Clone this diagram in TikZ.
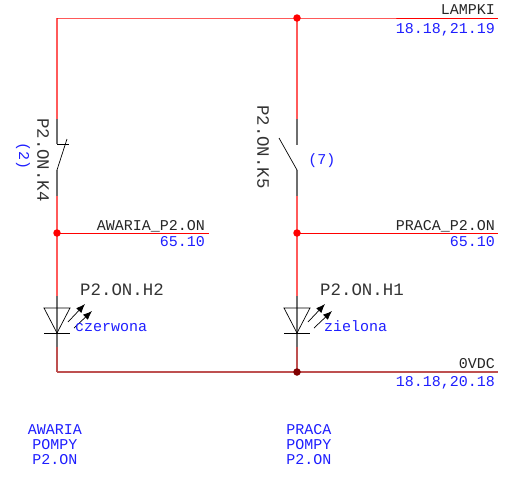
\documentclass[tikz,border=0pt]{standalone}
\usepackage{fontspec}
\setmainfont{Liberation Mono}
\usepackage{tikz}
\usetikzlibrary{calc,positioning,arrows.meta}
\definecolor{wire}{RGB}{255,90,90}
\definecolor{wireOV}{RGB}{190,80,80}
\definecolor{leadgray}{RGB}{110,110,110}
\definecolor{cadblue}{RGB}{30,30,255}

\begin{document}
\begin{tikzpicture}[
  x=1pt, y=-1pt,
  dot/.style={circle, fill=red, inner sep=0pt, minimum size=7.5pt},
  net/.style={draw=red, line width=1pt},
  rung/.style={draw=wire, line width=1.2pt},
  rungOV/.style={draw=wireOV, line width=1.2pt},
  leadline/.style={draw=leadgray, line width=1.2pt},
  sym/.style={draw=black, line width=0.7pt},
  ray/.style={-{Latex[length=9pt,width=7pt]}, black, line width=0.7pt},
  tag/.style={inner sep=0pt, font=\fontsize{17.4}{17.4}\selectfont, text=black!80},
  wirename/.style={inner sep=0pt, font=\fontsize{15}{15}\selectfont, text=black!85},
  xref/.style={inner sep=0pt, font=\fontsize{15}{15}\selectfont, text=cadblue}
]
\useasboundingbox (0,0) rectangle (512,477);

% junctions
\coordinate (topL) at (57,18);
\coordinate (botL) at (57,372);
\coordinate (lampki) at (498,18);
\coordinate (ovdc) at (498,372);
\coordinate (awaria) at (209,233);
\coordinate (praca) at (498,233);
\coordinate (topR) at (297,18);
\coordinate (midL) at (57,233);
\coordinate (midR) at (297,233);
\coordinate (botR) at (297,372);

% left rung
\coordinate (k4a) at (57,119);
\coordinate (k4b) at (57,144);
\coordinate (k4c) at (57,170);
\coordinate (k4d) at (57,196);
\coordinate (h2a) at (57,296);
\coordinate (h2b) at (57,347);
% right rung
\coordinate (k5a) at (297,119);
\coordinate (k5b) at (297,145);
\coordinate (k5c) at (297,170);
\coordinate (k5d) at (297,196);
\coordinate (h1a) at (297,296);
\coordinate (h1b) at (297,347);

\draw[rung] (topL) -- (k4a);
\draw[leadline] (k4a) -- (k4b);
\draw[leadline] (k4c) -- (k4d);
\draw[rung] (k4d) -- (midL);
\draw[rung] (midL) -- (h2a);
\draw[leadline] (h2a) -- (h2b);
\draw[rungOV] (h2b) -- (botL);
\draw[rung] (topR) -- (k5a);
\draw[leadline] (k5a) -- (k5b);
\draw[leadline] (k5c) -- (k5d);
\draw[rung] (k5d) -- (midR);
\draw[rung] (midR) -- (h1a);
\draw[leadline] (h1a) -- (h1b);
\draw[rungOV] (h1b) -- (botR);

\draw[net] (topL) -- (topR) -- (lampki);
\draw[net] (midL) -- (awaria);
\draw[net] (midR) -- (praca);
\draw[rungOV, line width=1.3pt] (botL) -- (botR) -- (ovdc);

\node[dot] (dotT) at (topR) {};
\node[dot] (dotL) at (midL) {};
\node[dot] (dotR) at (midR) {};
\node[dot, fill=red!50!black] (dotB) at (botR) {};

% contacts
\draw[sym] (k4b) -- (69,144);
\draw[sym] (k4c) -- (67,139);
\draw[sym] (k5c) -- (279,138);

% leds
\draw[sym] (44,308) -- (70,308) -- (57,333) -- cycle;
\draw[sym] (44,333) -- (70,333);
\draw[ray] (68,322) -- (85,304);
\draw[ray] (74,328) -- (92,311);
\draw[sym] (284,308) -- (310,308) -- (297,333) -- cycle;
\draw[sym] (284,333) -- (310,333);
\draw[ray] (308,322) -- (325,304);
\draw[ray] (314,328) -- (332,311);

% texts
\node[wirename, anchor=base east] (lampkiname) at (495,14) {LAMPKI};
\node[xref, anchor=base east] (lampkiref) at (495,33) {18.18,21.19};
\node[wirename, anchor=base east] (awarianame) at (205,230) {AWARIA\_P2.ON};
\node[xref, anchor=base east] (awariaref) at (205,246) {65.10};
\node[wirename, anchor=base east] (pracaname) at (495,230) {PRACA\_P2.ON};
\node[xref, anchor=base east] (pracaref) at (495,246) {65.10};
\node[wirename, anchor=base east] (ovdcname) at (495,368) {0VDC};
\node[xref, anchor=base east] (ovdcref) at (495,386) {18.18,20.18};

\node[tag, rotate=-90] (k4) at (43,160) {P2.ON.K4};
\node[xref, rotate=-90] (k4ref) at (23,156) {(2)};
\node[tag, rotate=-90] (k5) at (263,147) {P2.ON.K5};
\node[xref] (k5ref) at (322,161) {(7)};
\node[tag, anchor=base west] (h2) at (80,295) {P2.ON.H2};
\node[xref, anchor=base west] (h2ref) at (75,331) {czerwona};
\node[tag, anchor=base west] (h1) at (320,295) {P2.ON.H1};
\node[xref, anchor=base west] (h1ref) at (324,331) {zielona};

\node[xref, align=center] (awarianote) at (55,445) {AWARIA\\POMPY\\P2.ON};
\node[xref, align=center] (pracanote) at (309,445) {PRACA\\POMPY\\P2.ON};
\end{tikzpicture}
\end{document}
